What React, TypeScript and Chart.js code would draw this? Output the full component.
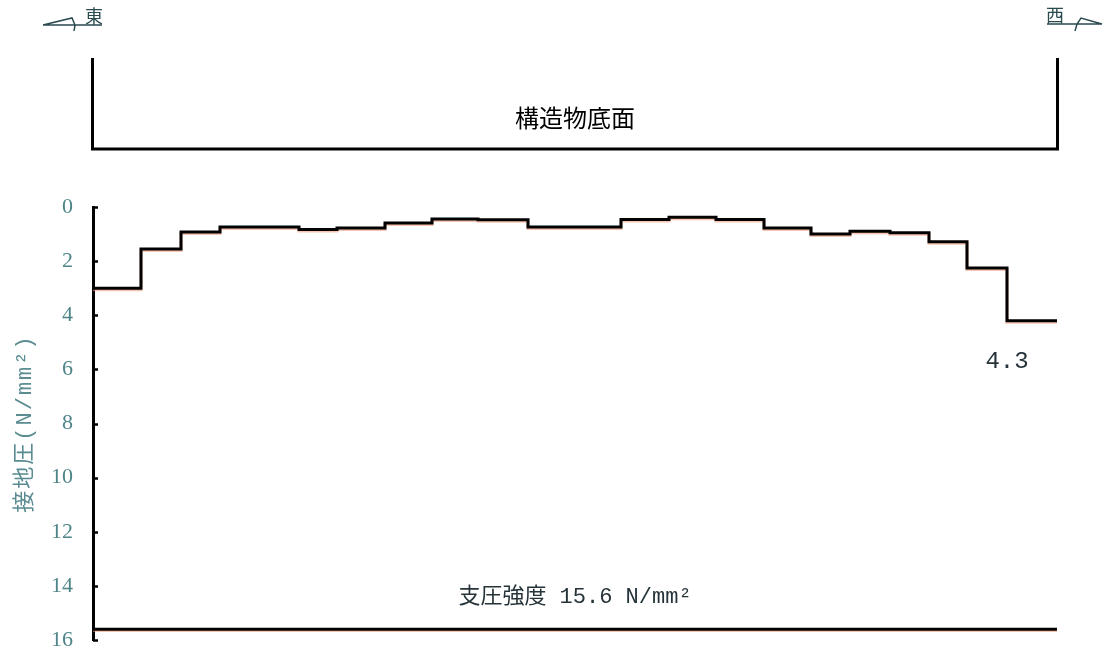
import React, { useEffect, useRef } from "react";
import { Chart, registerables } from "chart.js";

Chart.register(...registerables);

// Distance along the foundation (section boundaries, east -> west)
const POSITIONS = [0, 4.8, 8.8, 12.7, 20.6, 24.4, 29.2, 33.9, 38.5, 43.5, 52.8, 57.6, 62.3, 67.1, 71.8, 75.7, 79.7, 83.6, 87.4, 91.4, 96.4];
// Ground contact pressure for each section (N/mm²)
const PRESSURES = [3.0, 1.55, 0.92, 0.74, 0.83, 0.78, 0.59, 0.44, 0.47, 0.74, 0.46, 0.38, 0.46, 0.78, 1.0, 0.9, 0.95, 1.28, 2.25, 4.2];
const Y_TICKS = [0, 2, 4, 6, 8, 10, 12, 14, 16];
const BEARING_STRENGTH = 15.6;
const MAX_LABEL = "4.3";
const BEARING_LABEL = "支圧強度 15.6 N/mm²";
const BASE_LABEL = "構造物底面";
const EAST_LABEL = "東";
const WEST_LABEL = "西";
const Y_TITLE = "接地圧(N/mm²)";

const TICK_COLOR = "#4f8589";
const TITLE_COLOR = "#5a8c92";
const TEXT_DARK = "#26343a";

const decorPlugin = {
  id: "decor",
  beforeDatasetDraw(chart: any) {
    const ctx = chart.ctx;
    ctx.save();
    ctx.shadowColor = "rgba(240,150,110,0.55)";
    ctx.shadowOffsetY = 1.5;
    ctx.shadowBlur = 0.5;
  },
  afterDatasetDraw(chart: any) {
    chart.ctx.restore();
  },
  afterDraw(chart: any) {
    const ctx = chart.ctx;
    const { left, right, top, bottom } = chart.chartArea;
    const xs = chart.scales.x;
    const ys = chart.scales.y;
    ctx.save();
    // inward ticks
    ctx.strokeStyle = "#000";
    ctx.lineWidth = 2.5;
    Y_TICKS.forEach((v) => {
      const py = Math.round(ys.getPixelForValue(v)) + 0.5;
      ctx.beginPath();
      ctx.moveTo(left, py);
      ctx.lineTo(left + 5, py);
      ctx.stroke();
    });
    // y axis title
    ctx.save();
    ctx.translate(25, (top + bottom) / 2);
    ctx.rotate(-Math.PI / 2);
    ctx.fillStyle = TITLE_COLOR;
    ctx.font = "22px 'Liberation Mono', 'Noto Sans CJK JP'";
    (ctx as any).letterSpacing = "2px";
    ctx.textAlign = "center";
    ctx.textBaseline = "middle";
    ctx.fillText(Y_TITLE, 0, 0);
    (ctx as any).letterSpacing = "0px";
    ctx.restore();

    // structure base bracket
    ctx.lineWidth = 3;
    ctx.lineCap = "butt";
    ctx.lineJoin = "miter";
    ctx.beginPath();
    ctx.moveTo(left - 0.5, 58);
    ctx.lineTo(left - 0.5, 149);
    ctx.lineTo(right + 0.5, 149);
    ctx.lineTo(right + 0.5, 58);
    ctx.stroke();
    ctx.fillStyle = "#000";
    ctx.font = "24px 'Noto Sans CJK JP'";
    ctx.textAlign = "center";
    ctx.textBaseline = "middle";
    ctx.fillText(BASE_LABEL, (left + right) / 2, 118);

    // annotations
    ctx.fillStyle = TEXT_DARK;
    ctx.font = "24px 'Liberation Mono', 'Noto Sans CJK JP'";
    ctx.fillText(MAX_LABEL, xs.getPixelForValue(POSITIONS[POSITIONS.length - 2]), ys.getPixelForValue(5.7));
    ctx.font = "22px 'Liberation Mono', 'Noto Sans CJK JP'";
    ctx.fillText(BEARING_LABEL, xs.getPixelForValue((POSITIONS[0] + POSITIONS[POSITIONS.length - 1]) / 2), ys.getPixelForValue(14.4));

    // east / west markers
    ctx.strokeStyle = "#2a4a50";
    ctx.lineWidth = 1.5;
    ctx.beginPath();
    ctx.moveTo(43, 25);
    ctx.lineTo(102, 25);
    ctx.moveTo(43, 25);
    ctx.lineTo(72, 18);
    ctx.lineTo(75, 25);
    ctx.lineTo(74, 31);
    ctx.stroke();
    ctx.beginPath();
    ctx.moveTo(1047, 24);
    ctx.lineTo(1102, 24);
    ctx.moveTo(1102, 24);
    ctx.lineTo(1081, 18);
    ctx.lineTo(1077, 24);
    ctx.lineTo(1075, 31);
    ctx.stroke();
    ctx.fillStyle = "#2a4a50";
    ctx.font = "18px 'Noto Sans CJK JP'";
    ctx.textAlign = "center";
    ctx.textBaseline = "alphabetic";
    ctx.fillText(EAST_LABEL, 94, 23);
    ctx.fillText(WEST_LABEL, 1055, 22);
    ctx.restore();
  },
};

export default function App() {
  const ref = useRef<HTMLCanvasElement | null>(null);
  useEffect(() => {
    document.body.style.margin = "0";
    const data = PRESSURES.map((p, i) => ({ x: POSITIONS[i], y: p }));
    data.push({ x: POSITIONS[POSITIONS.length - 1], y: PRESSURES[PRESSURES.length - 1] });
    const xMax = POSITIONS[POSITIONS.length - 1];
    const chart = new Chart(ref.current as HTMLCanvasElement, {
      type: "line",
      data: {
        datasets: [
          {
            data,
            stepped: "before",
            borderColor: "#000",
            borderWidth: 3,
            pointRadius: 0,
            fill: false,
            clip: false as any,
          },
          {
            data: [
              { x: 0, y: BEARING_STRENGTH },
              { x: xMax, y: BEARING_STRENGTH },
            ],
            borderColor: "#000",
            borderWidth: 3,
            pointRadius: 0,
            fill: false,
            clip: false as any,
          },
        ],
      },
      options: {
        animation: false,
        responsive: true,
        maintainAspectRatio: false,
        layout: { padding: { top: 207, bottom: 14, left: 0, right: 54 } },
        plugins: { legend: { display: false }, tooltip: { enabled: false } },
        scales: {
          x: { type: "linear", min: 0, max: xMax, display: false },
          y: {
            min: 0,
            max: 16,
            reverse: true,
            afterFit: (s: any) => {
              s.width = 93;
              s.paddingTop = 0;
              s.paddingBottom = 0;
            },
            grid: { display: false, drawTicks: false },
            border: { display: true, color: "#000", width: 3 },
            ticks: {
              stepSize: 2,
              padding: 20,
              color: TICK_COLOR,
              font: { family: "'Liberation Serif'", size: 22 },
            },
            title: { display: false },
          },
        },
      } as any,
      plugins: [decorPlugin],
    });
    return () => chart.destroy();
  }, []);
  return (
    <div style={{ position: "fixed", left: 0, top: 0, width: 1111, height: 654, background: "#fff" }}>
      <canvas ref={ref} />
    </div>
  );
}
